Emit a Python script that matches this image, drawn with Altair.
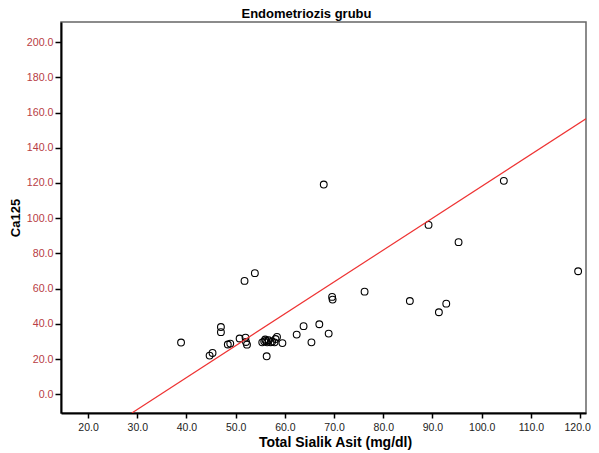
import altair as alt
import pandas as pd

# Scatter data
tsa = [38.9, 44.7, 45.3, 47.0, 47.0, 48.4, 48.9, 50.8, 52.0, 52.1, 52.3, 51.8, 53.9,
       55.4, 55.8, 56.0, 56.2, 56.4, 56.7, 57.1, 57.4, 57.9, 58.1, 58.4, 59.5, 56.3,
       62.4, 63.8, 65.4, 67.0, 68.9, 69.6, 69.7, 67.9, 76.2, 85.4, 89.2, 91.3, 92.8,
       95.3, 104.5, 119.6]
ca125 = [29.4, 22.0, 23.5, 38.2, 35.3, 28.3, 28.8, 31.7, 32.2, 29.7, 28.2, 64.4, 68.8,
         29.5, 30.1, 31.1, 30.3, 29.5, 30.7, 29.5, 29.9, 29.5, 31.4, 32.6, 29.1, 21.6,
         33.9, 38.7, 29.5, 39.8, 34.5, 55.3, 53.8, 119.1, 58.3, 53.0, 96.2, 46.6, 51.5,
         86.4, 121.2, 69.9]

# Fit line end points
fit_x = [28.9, 123.9]
fit_y = [-10.6, 161.4]

x_ticks = [20, 30, 40, 50, 60, 70, 80, 90, 100, 110, 120]
y_ticks = [0, 20, 40, 60, 80, 100, 120, 140, 160, 180, 200]

pts = pd.DataFrame({"x": tsa, "y": ca125})
fit = pd.DataFrame({"x": fit_x, "y": fit_y})

FONT = "Liberation Sans"

xscale = alt.Scale(domain=[14.5, 121.2], nice=False, zero=False)
yscale = alt.Scale(domain=[-10.6, 211.4], nice=False, zero=False)

xaxis = alt.Axis(
    title="Total Sialik Asit (mg/dl)", values=x_ticks, format=".1f", grid=False,
    labelOverlap=False, tickCount=11,
    labelOffset={"condition": {"test": "datum.value >= 120", "value": -3}, "value": 0},
    domainColor="black", domainWidth=2, tickColor="black", tickSize=5, tickWidth=1.5,
    labelFont=FONT, labelFontSize=10.5, labelColor="#222222", labelPadding=4,
    titleFont=FONT, titleFontSize=14, titleFontWeight="bold", titleColor="black",
    titlePadding=3, titleX=274,
)
yaxis = alt.Axis(
    title="Ca125", values=y_ticks, format=".1f", grid=False,
    labelOverlap=False, tickCount=11,
    domainColor="black", domainWidth=2, tickColor="black", tickSize=6, tickWidth=1.5,
    labelFont=FONT, labelFontSize=10.7, labelColor="#b83c45", labelPadding=2,
    titleFont=FONT, titleFontSize=13, titleFontWeight="bold", titleColor="black",
    titlePadding=4,
)

points = alt.Chart(pts).mark_point(
    shape="circle", filled=False, color="black", size=46, strokeWidth=1.1, opacity=1
).encode(
    x=alt.X("x:Q", scale=xscale, axis=xaxis),
    y=alt.Y("y:Q", scale=yscale, axis=yaxis),
)

line = alt.Chart(fit).mark_line(color="#ee3333", strokeWidth=1.2, clip=True).encode(
    x=alt.X("x:Q", scale=xscale, axis=xaxis),
    y=alt.Y("y:Q", scale=yscale, axis=yaxis),
)

chart = alt.layer(points, line).properties(
    width=525,
    height=391,
    background="white",
    title=alt.TitleParams(
        "Endometriozis grubu", font=FONT, fontSize=13, fontWeight="bold",
        color="black", anchor="middle", dx=-17, dy=12, offset=0, baseline="bottom",
    ),
    autosize=alt.AutoSizeParams(type="none"),
    padding={"left": 53, "top": 14, "right": 5, "bottom": 38},
).configure_view(
    stroke="#666666", strokeWidth=1.5
).configure_axis(
    labelOverlap=False
)

chart.save("out.html", embed_options={"renderer": "svg", "actions": False})
